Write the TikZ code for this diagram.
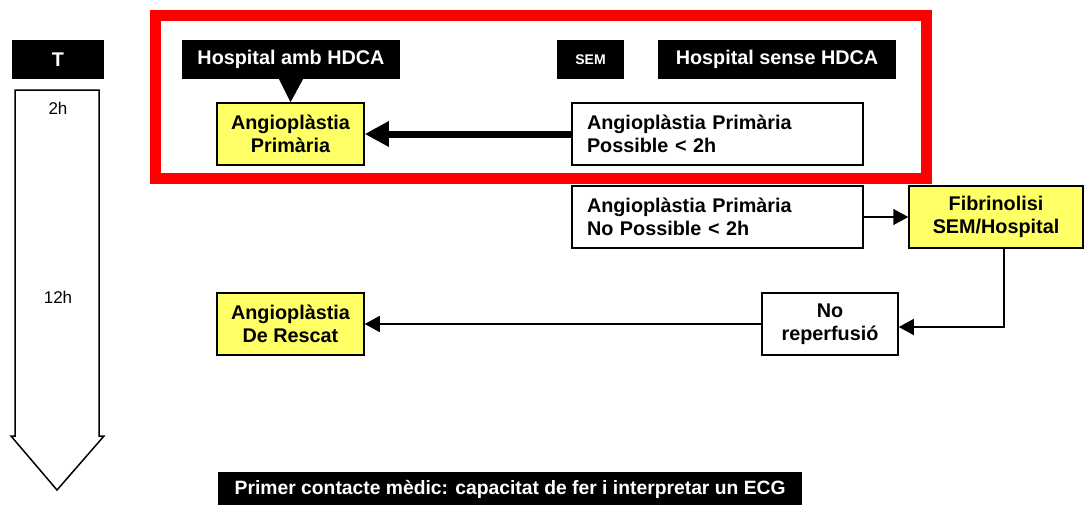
\documentclass[tikz,border=0pt]{standalone}
\usepackage{fontspec}
\setmainfont{Liberation Sans}
\usetikzlibrary{arrows.meta,calc}
\definecolor{boxyellow}{RGB}{255,255,102}
\definecolor{frame}{RGB}{255,0,0}
\begin{document}
\begin{tikzpicture}[x=1pt,y=-1pt,
  every node/.style={font=\bfseries\fontsize{19.8}{23.5}\selectfont, inner sep=0pt, align=center},
  label/.style={fill=black, text=white, minimum height=39},
  yellowbox/.style={draw=black, line width=1.5pt, fill=boxyellow, minimum width=147, minimum height=62},
  whitebox/.style={draw=black, line width=1.5pt, fill=white, minimum height=62},
  textbox/.style={whitebox, minimum width=291, align=left, text width=261},
  link/.style={line width=1.5pt, -{Triangle[length=15pt,width=16pt]}},
  thicklink/.style={line width=7pt, -{Triangle[length=24pt,width=24pt]}},
  hourmark/.style={font=\fontsize{17}{20}\selectfont}
]
\useasboundingbox (0,0) rectangle (1087,504);

% time axis
\node[label, minimum width=92] (T) at (58,59.5) {T};
\draw[line width=1.5pt, fill=white, line join=miter]
  (15,90) -- (99,90) -- (99,436) -- (104,436) -- (57,490) -- (11,436) -- (15,436) -- cycle;
\node[hourmark] (h2) at (58,108) {2h};
\node[hourmark] (h12) at (58,297) {12h};

% red frame around the primary angioplasty case
\draw[frame, line width=11pt] (155.5,15.5) rectangle (926.5,178.5);

% header labels
\node[label, minimum width=218] (hosp) at (291,59.5) {Hospital amb HDCA};
\node[label, minimum width=67, font=\bfseries\fontsize{14}{16}\selectfont] (sem) at (590.5,59.5) {SEM};
\node[label, minimum width=238] (hospno) at (777,59.5) {Hospital sense HDCA};

% boxes
\node[yellowbox] (ap) at (290.5,134) {Angioplàstia\\Primària};
\node[textbox] (poss) at (717.5,134) {Angioplàstia Primària\\Possible < 2h};
\node[textbox] (noposs) at (717.5,217) {Angioplàstia Primària\\No Possible < 2h};
\node[yellowbox, minimum width=174] (fib) at (996,217) {Fibrinolisi\\SEM/Hospital};
\node[whitebox, minimum width=136] (norep) at (830,324) {No\\reperfusió};
\node[yellowbox] (rescat) at (290.5,324) {Angioplàstia\\De Rescat};
\node[label, minimum width=584, minimum height=34, anchor=north west,
      font=\bfseries\fontsize{19.3}{23}\selectfont] (pcm) at (218,472)
      {\raisebox{2pt}{Primer contacte mèdic: capacitat de fer i interpretar un ECG}};

% pointer from the hospital label
\fill ($(hosp.south)+(-12,0)$) -- ($(hosp.south)+(12,0)$) -- (ap.north) -- cycle;

% connectors
\draw[thicklink] (poss.west) -- (ap.east);
\draw[link] (noposs.east) -- (fib.west);
\draw[link] (fib.south -| 1004,0) |- ($(norep.east)+(0,3)$);
\draw[link] (norep.west) -- (rescat.east);
\end{tikzpicture}
\end{document}
